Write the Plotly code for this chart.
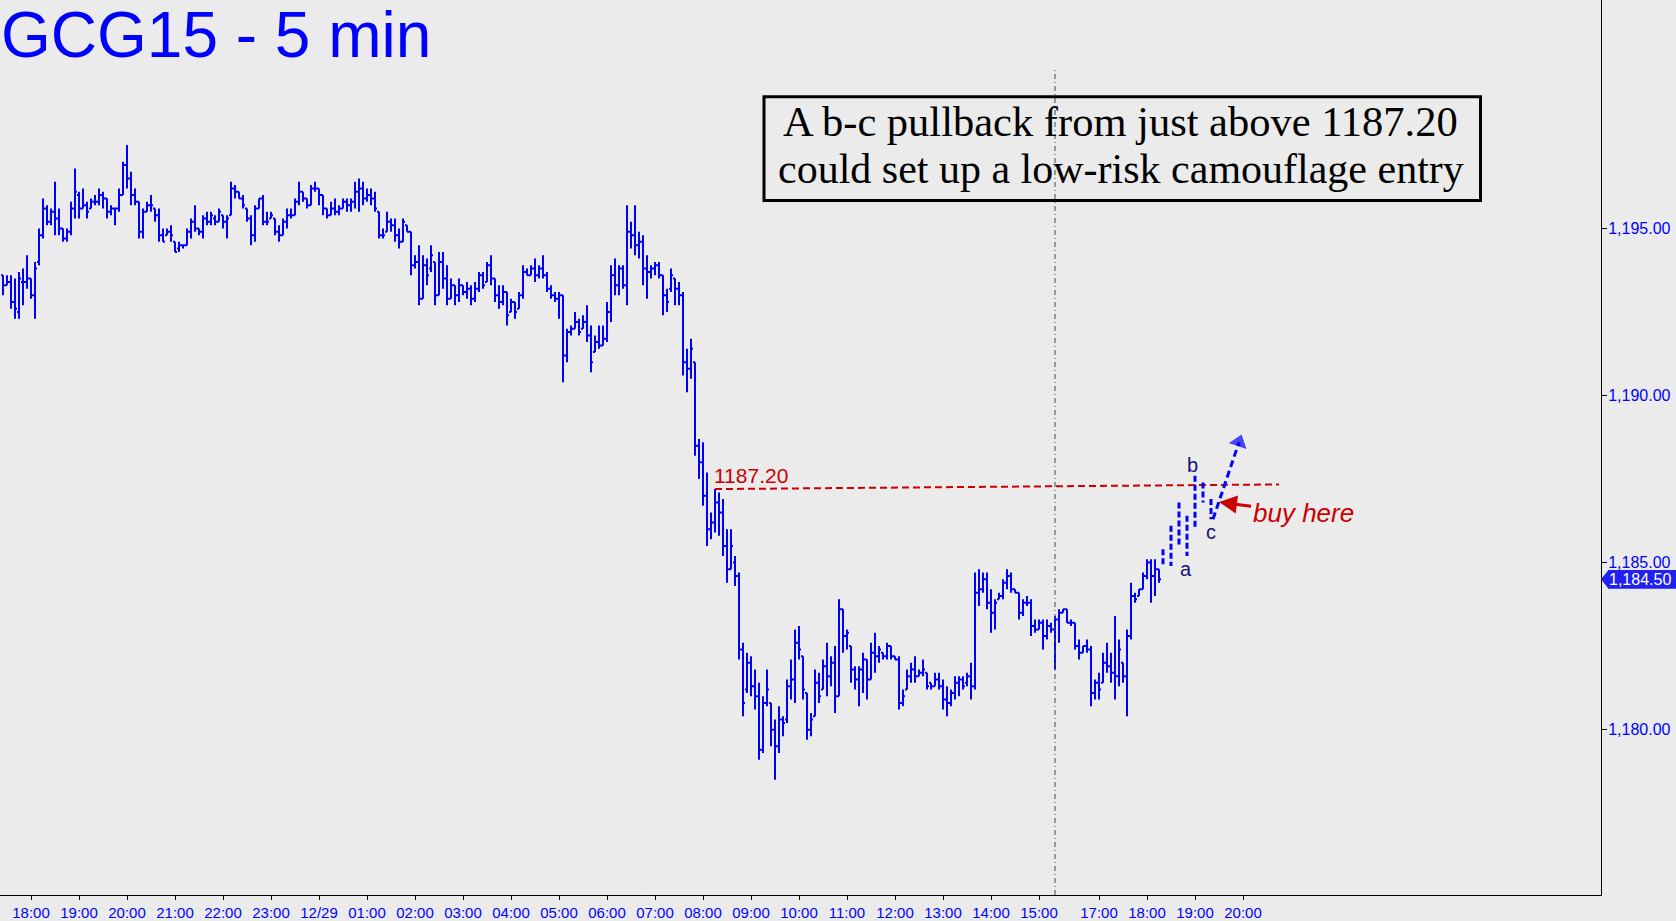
import pandas as pd
import plotly.graph_objects as go

# ---------------- data (5-minute OHLC bars, GCG15) ----------------
opens = [
 1193.6,1193.3,1193.4,1192.8,1192.5,1193.4,1193.4,1193.5,1193.0,1194.0,
 1194.8,1195.6,1195.2,1195.5,1195.3,1195.0,1194.7,1194.9,1195.6,1196.0,
 1195.6,1195.7,1195.6,1195.8,1195.8,1196.0,1195.9,1195.5,1195.6,1195.6,
 1196.0,1196.9,1196.5,1196.0,1195.8,1194.9,1195.5,1195.7,1195.6,1195.4,
 1194.8,1194.8,1194.9,1194.6,1194.4,1194.5,1194.5,1194.9,1195.2,1195.0,
 1194.9,1195.3,1195.2,1195.3,1195.2,1195.4,1195.2,1195.4,1196.2,1196.1,
 1195.9,1195.6,1195.3,1194.8,1195.6,1195.9,1195.2,1195.3,1195.3,1194.9,
 1194.8,1195.2,1195.4,1195.4,1195.8,1196.1,1195.9,1195.7,1196.2,1196.2,
 1196.0,1195.6,1195.4,1195.6,1195.5,1195.6,1195.8,1195.7,1195.8,1196.1,
 1196.2,1195.9,1196.0,1195.9,1195.5,1194.8,1194.9,1195.2,1195.1,1194.8,
 1194.6,1195.1,1194.9,1193.9,1194.0,1192.9,1193.9,1193.8,1194.0,1193.0,
 1194.0,1193.5,1192.9,1193.3,1193.0,1193.3,1193.1,1193.2,1192.9,1193.2,
 1193.6,1193.4,1193.9,1193.5,1193.0,1192.8,1193.1,1192.5,1192.8,1192.6,
 1193.0,1193.7,1193.6,1193.8,1193.6,1193.8,1193.6,1193.2,1193.0,1192.9,
 1193.0,1191.2,1191.9,1192.0,1192.2,1192.0,1192.2,1191.8,1191.3,1191.6,
 1191.5,1191.7,1192.5,1193.6,1193.3,1193.8,1193.3,1194.9,1194.8,1194.5,
 1194.6,1193.8,1193.7,1193.8,1193.9,1193.6,1193.0,1193.2,1193.5,1193.2,
 1193.0,1191.0,1190.8,1191.0,1188.5,1188.0,1187.0,1186.0,1186.2,1186.8,
 1186.5,1185.5,1184.8,1185.0,1184.6,1182.4,1181.2,1182.0,1181.3,1181.0,
 1179.4,1180.8,1180.8,1180.0,1179.5,1180.3,1180.3,1181.3,1181.5,1182.6,
 1182.2,1181.1,1180.0,1180.4,1181.4,1181.2,1181.9,1181.6,1182.0,1181.0,
 1183.6,1182.8,1182.5,1181.8,1181.5,1181.8,1182.1,1181.5,1182.3,1182.2,
 1182.3,1182.2,1182.5,1182.2,1182.1,1180.8,1181.2,1181.6,1181.8,1181.6,
 1181.7,1181.7,1181.4,1181.3,1181.5,1181.3,1180.9,1180.8,1181.1,1181.4,
 1181.5,1181.4,1181.6,1181.3,1184.1,1184.2,1184.5,1183.8,1183.5,1183.9,
 1184.0,1184.4,1184.6,1184.2,1184.1,1183.5,1183.8,1183.8,1183.1,1183.0,
 1183.2,1182.8,1183.1,1183.0,1183.3,1183.5,1183.6,1183.2,1183.2,1182.5,
 1182.3,1182.5,1182.4,1181.1,1181.4,1181.4,1182.0,1181.9,1181.7,1181.6,
 1182.0,1181.6,1182.8,1184.0,1184.0,1184.2,1184.6,1185.0,1184.6,1184.8,
]
highs = [
 1193.6,1193.6,1193.6,1193.5,1193.7,1193.8,1194.2,1193.5,1194.0,1195.0,
 1195.9,1195.7,1195.6,1196.4,1195.6,1195.0,1195.0,1195.8,1196.8,1196.1,
 1196.2,1195.8,1195.9,1196.0,1196.2,1196.1,1195.9,1195.7,1195.6,1196.2,
 1197.0,1197.5,1196.7,1196.2,1195.8,1195.6,1195.8,1196.0,1195.6,1195.6,
 1195.0,1195.0,1195.1,1194.6,1194.6,1194.5,1195.0,1195.3,1195.7,1195.0,
 1195.4,1195.5,1195.5,1195.4,1195.6,1195.4,1195.4,1196.4,1196.3,1196.1,
 1196.0,1195.6,1195.4,1195.7,1195.9,1196.0,1195.5,1195.5,1195.3,1195.1,
 1195.3,1195.6,1195.6,1195.9,1196.4,1196.1,1195.9,1196.3,1196.4,1196.2,
 1196.0,1195.6,1195.8,1195.9,1195.7,1195.9,1195.9,1195.9,1196.4,1196.5,
 1196.4,1196.2,1196.2,1196.1,1195.5,1195.0,1195.5,1195.3,1195.3,1195.0,
 1195.3,1195.1,1194.9,1194.2,1194.5,1194.2,1194.1,1194.5,1194.0,1194.3,
 1194.3,1193.9,1193.5,1193.3,1193.5,1193.3,1193.4,1193.3,1193.4,1193.7,
 1193.7,1194.0,1194.2,1193.5,1193.3,1193.3,1193.1,1192.9,1192.8,1193.1,
 1193.9,1193.8,1193.9,1194.1,1193.9,1194.2,1193.7,1193.3,1193.1,1193.1,
 1193.0,1192.0,1192.1,1192.5,1192.3,1192.4,1192.7,1192.1,1191.8,1192.1,
 1192.1,1192.8,1193.9,1194.1,1193.9,1193.9,1195.7,1195.2,1195.7,1194.9,
 1194.8,1194.2,1193.9,1194.0,1194.0,1193.6,1193.2,1193.8,1193.5,1193.4,
 1193.1,1191.4,1191.7,1191.0,1188.7,1188.6,1187.7,1186.5,1187.2,1187.1,
 1186.9,1186.0,1186.0,1185.2,1184.7,1182.6,1182.3,1182.2,1181.8,1181.4,
 1181.0,1181.8,1180.8,1180.3,1180.7,1180.4,1181.5,1182.1,1183.0,1183.1,
 1182.2,1181.1,1180.5,1181.8,1181.7,1182.1,1182.6,1182.2,1182.5,1183.9,
 1183.6,1183.0,1182.5,1181.9,1181.9,1182.3,1182.1,1182.6,1182.9,1182.5,
 1182.3,1182.6,1182.5,1182.2,1182.2,1181.2,1181.8,1182.0,1182.2,1181.8,
 1182.1,1181.7,1181.4,1181.7,1181.7,1181.5,1181.3,1181.2,1181.6,1181.6,
 1181.6,1181.7,1182.0,1184.7,1184.8,1184.7,1184.7,1184.2,1183.9,1184.1,
 1184.5,1184.8,1184.7,1184.2,1184.1,1183.9,1184.0,1183.9,1183.3,1183.3,
 1183.3,1183.3,1183.2,1183.4,1183.6,1183.6,1183.6,1183.3,1183.2,1182.7,
 1182.5,1182.7,1182.5,1181.5,1181.7,1182.3,1182.6,1182.3,1183.4,1182.7,
 1182.0,1183.0,1184.4,1184.1,1184.2,1184.7,1185.1,1185.1,1185.1,1184.8,
]
lows = [
 1193.0,1193.3,1192.6,1192.3,1192.3,1192.7,1193.2,1192.9,1192.3,1193.9,
 1194.7,1195.1,1195.1,1194.8,1194.8,1194.6,1194.6,1194.8,1195.3,1195.3,
 1195.6,1195.3,1195.6,1195.7,1195.7,1195.6,1195.3,1195.4,1195.1,1195.5,
 1196.0,1196.2,1195.7,1195.7,1194.7,1194.7,1195.5,1195.5,1195.2,1194.6,
 1194.6,1194.8,1194.6,1194.3,1194.3,1194.4,1194.5,1194.7,1194.9,1194.8,
 1194.7,1195.1,1195.1,1195.1,1195.2,1195.0,1194.7,1195.4,1195.9,1195.9,
 1195.6,1195.2,1194.5,1194.6,1195.6,1195.1,1195.1,1195.3,1194.8,1194.6,
 1194.8,1195.0,1195.3,1195.4,1195.7,1195.8,1195.6,1195.7,1196.1,1195.7,
 1195.4,1195.3,1195.4,1195.4,1195.4,1195.6,1195.5,1195.5,1195.6,1195.5,
 1195.7,1195.8,1195.7,1195.5,1194.7,1194.7,1194.9,1194.9,1194.6,1194.4,
 1194.6,1194.9,1193.6,1193.8,1192.7,1192.9,1193.3,1193.7,1192.7,1193.0,
 1193.2,1192.7,1192.9,1192.7,1192.8,1193.0,1192.9,1192.7,1192.8,1193.1,
 1193.2,1193.4,1193.3,1192.8,1192.6,1192.7,1192.1,1192.5,1192.3,1192.6,
 1192.9,1193.6,1193.6,1193.4,1193.5,1193.5,1193.1,1192.9,1192.8,1192.3,
 1190.4,1191.0,1191.8,1192.0,1191.8,1192.0,1191.6,1190.7,1191.3,1191.4,
 1191.5,1191.6,1192.2,1193.0,1193.0,1193.2,1192.7,1194.4,1194.2,1194.1,
 1193.3,1192.9,1193.5,1193.6,1193.5,1192.4,1192.5,1193.1,1192.7,1192.7,
 1190.6,1190.1,1190.5,1188.2,1187.5,1186.7,1185.5,1185.7,1185.9,1185.8,
 1185.2,1184.4,1184.8,1184.3,1182.1,1180.4,1181.1,1181.0,1180.6,1179.1,
 1179.3,1180.7,1179.5,1178.5,1179.3,1179.8,1180.2,1180.9,1180.8,1182.1,
 1180.9,1179.7,1179.8,1180.4,1180.8,1181.2,1181.0,1181.3,1180.5,1181.0,
 1182.3,1182.4,1181.4,1181.2,1180.7,1181.1,1180.9,1181.5,1181.7,1182.0,
 1182.1,1182.1,1182.1,1182.1,1180.6,1180.7,1181.2,1181.4,1181.4,1181.6,
 1181.6,1181.2,1181.2,1181.3,1181.2,1180.6,1180.4,1180.7,1180.9,1181.0,
 1181.2,1181.3,1180.9,1181.2,1183.7,1184.1,1183.6,1182.9,1183.0,1183.9,
 1183.9,1184.2,1184.1,1184.1,1183.3,1183.4,1183.7,1182.8,1182.9,1183.0,
 1182.4,1182.7,1182.9,1181.8,1182.6,1183.5,1183.2,1183.1,1182.4,1182.1,
 1182.3,1182.3,1180.7,1180.9,1180.9,1181.4,1181.7,1181.4,1180.9,1181.3,
 1181.4,1180.4,1182.7,1183.8,1184.0,1184.2,1184.5,1183.8,1184.0,1184.4,
]
closes = [
 1193.3,1193.4,1192.8,1192.6,1193.5,1193.4,1193.5,1193.0,1193.8,1194.8,
 1195.6,1195.2,1195.5,1195.3,1195.0,1194.7,1194.9,1195.6,1196.1,1195.6,
 1195.7,1195.5,1195.8,1195.8,1196.0,1195.9,1195.5,1195.6,1195.6,1196.0,
 1196.9,1196.5,1196.0,1195.8,1194.9,1195.5,1195.7,1195.7,1195.4,1194.8,
 1194.6,1194.9,1194.8,1194.3,1194.5,1194.5,1194.9,1195.2,1195.0,1194.9,
 1195.3,1195.2,1195.4,1195.2,1195.5,1195.2,1195.3,1196.2,1196.1,1195.9,
 1195.7,1195.3,1194.8,1195.6,1195.9,1195.2,1195.2,1195.4,1194.9,1194.8,
 1195.2,1195.4,1195.4,1195.8,1196.1,1195.9,1195.7,1196.2,1196.2,1196.0,
 1195.6,1195.4,1195.6,1195.5,1195.6,1195.8,1195.7,1195.8,1196.1,1196.2,
 1195.9,1196.0,1195.9,1195.6,1194.8,1194.8,1195.2,1195.1,1194.8,1194.6,
 1195.2,1194.9,1193.9,1194.0,1192.9,1193.9,1193.6,1194.2,1193.0,1194.0,
 1193.5,1192.9,1193.3,1193.0,1193.3,1193.1,1193.2,1192.9,1193.2,1193.6,
 1193.3,1193.9,1193.5,1193.0,1192.8,1193.1,1192.4,1192.8,1192.5,1193.0,
 1193.7,1193.6,1193.8,1193.6,1193.8,1193.6,1193.2,1193.0,1192.9,1193.0,
 1191.2,1191.9,1192.0,1192.2,1191.9,1192.2,1191.8,1191.0,1191.6,1191.5,
 1191.7,1192.5,1193.6,1193.3,1193.8,1193.3,1194.9,1194.8,1194.5,1194.6,
 1193.8,1193.7,1193.8,1193.9,1193.6,1193.0,1192.8,1193.6,1193.2,1193.0,
 1191.0,1190.8,1191.4,1188.5,1188.0,1187.0,1186.0,1186.2,1186.8,1186.5,
 1185.5,1184.8,1185.5,1184.6,1182.4,1180.8,1182.0,1181.3,1181.0,1179.4,
 1180.8,1181.2,1180.0,1179.5,1180.3,1180.2,1181.3,1181.5,1182.6,1182.4,
 1181.2,1180.0,1180.3,1181.4,1181.0,1181.9,1181.6,1182.0,1181.0,1183.6,
 1182.8,1182.9,1181.8,1181.5,1181.8,1182.1,1181.5,1182.3,1182.2,1182.4,
 1182.2,1182.5,1182.2,1182.1,1180.8,1181.0,1181.6,1181.8,1181.6,1181.7,
 1181.8,1181.3,1181.3,1181.5,1181.3,1180.9,1180.8,1181.1,1181.4,1181.5,
 1181.3,1181.6,1181.3,1184.1,1184.2,1184.5,1183.8,1183.5,1183.8,1184.0,
 1184.4,1184.6,1184.2,1184.1,1183.5,1183.8,1183.8,1183.1,1183.0,1183.2,
 1182.8,1183.1,1183.0,1183.3,1183.5,1183.6,1183.2,1183.2,1182.5,1182.3,
 1182.5,1182.4,1181.1,1181.4,1181.2,1182.0,1181.9,1181.7,1181.6,1182.4,
 1181.6,1182.8,1184.0,1183.9,1184.2,1184.6,1185.0,1184.6,1184.8,1184.5,
]

# session times (CME break 16:15-17:00)
session1 = pd.date_range("2014-12-28 17:25", "2014-12-29 16:10", freq="5min")
session2 = pd.date_range("2014-12-29 17:00", "2014-12-29 20:55", freq="5min")
axis_times = list(session1) + list(session2)

# hand-drawn projection (a-b-c) bars, offsets in bars after the last real bar
proj_offsets = [1, 3, 5, 7, 9, 11, 13]
proj_high = [1185.4, 1186.1, 1186.8, 1186.4, 1187.6, 1187.4, 1186.9]
proj_low = [1184.9, 1184.9, 1185.5, 1185.2, 1186.0, 1186.8, 1186.3]
arrow_offsets = [13.5, 20.0]
arrow_price = [1186.3, 1188.6]
buy_offset, buy_price = 15, 1186.81

level_price = [1187.20, 1187.34]
level_start = "08:15"
level_end_offset = 30
marker_time = "15:20"
last_price = 1184.50

title_text = "GCG15 - 5 min"
note_lines = ["A b-c pullback from just above 1187.20",
              "could set up a low-risk camouflage entry"]

# ---------------- derived ----------------
n = len(closes)
xi = list(range(n))
last = n - 1
tick_pos = [i for i, t in enumerate(axis_times) if t.minute == 0 and t.hour != 16]
tick_txt = ["12/29" if axis_times[i].hour == 0 else axis_times[i].strftime("%H:%M") for i in tick_pos]
lvl_i = [i for i, t in enumerate(axis_times[:n]) if t.strftime("%H:%M") == level_start and t.day == 29][0]
mark_i = [i for i, t in enumerate(axis_times[:n]) if t.strftime("%H:%M") == marker_time and t.day == 29][0]

BLUE = "#0000FF"
RED = "#CC0000"
BG = "#EBEBEB"
SANS = "Liberation Sans, Arial, sans-serif"
SERIF = "Liberation Serif, Times New Roman, serif"

fig = go.Figure()
fig.add_trace(go.Ohlc(
    x=xi, open=opens, high=highs, low=lows, close=closes,
    increasing=dict(line=dict(color=BLUE, width=2)),
    decreasing=dict(line=dict(color=BLUE, width=2)),
    tickwidth=0.5, hoverinfo="skip", showlegend=False))

# red level line
fig.add_trace(go.Scatter(
    x=[lvl_i, last + level_end_offset], y=level_price, mode="lines",
    line=dict(color=RED, width=2, dash="7px,4px"), hoverinfo="skip", showlegend=False))

# dashed projection bars
px_, py_ = [], []
for o, h, l in zip(proj_offsets, proj_high, proj_low):
    px_ += [last + o, last + o, None]
    py_ += [h, l, None]
fig.add_trace(go.Scatter(x=px_, y=py_, mode="lines",
                         line=dict(color=BLUE, width=3, dash="6px,3px"),
                         hoverinfo="skip", showlegend=False))
# dashed arrow
fig.add_trace(go.Scatter(
    x=[last + a for a in arrow_offsets], y=arrow_price, mode="lines+markers",
    line=dict(color=BLUE, width=3, dash="7px,4px"),
    marker=dict(symbol="triangle-up", size=[0, 18], color=BLUE, angleref="previous"),
    hoverinfo="skip", showlegend=False))

W, H = 1676, 921
L, R, T, B = 0, 75, 0, 24
PW, PH = W - L - R, H - T - B


def pxx(x):
    return x / PW


def pxy(y):
    return 1 - y / PH


fig.update_layout(
    width=W, height=H, autosize=False,
    margin=dict(l=L, r=R, t=T, b=B, pad=0),
    paper_bgcolor=BG, plot_bgcolor=BG,
    showlegend=False, hovermode=False,
    xaxis=dict(range=[-0.75, 399.5], showgrid=False, zeroline=False,
               rangeslider=dict(visible=False),
               tickmode="array", tickvals=tick_pos, ticktext=tick_txt,
               ticks="outside", ticklen=4, tickcolor="black", tickwidth=1,
               showline=True, linecolor="black", linewidth=1,
               tickfont=dict(family=SANS, size=15, color=BLUE)),
    yaxis=dict(range=[1175.05, 1201.84], side="right", showgrid=False, zeroline=False,
               tickmode="array", tickvals=[1180, 1185, 1190, 1195], tickformat=",.2f",
               ticks="outside", ticklen=5, tickcolor="black", tickwidth=1,
               ticklabelstandoff=-2,
               showline=True, linecolor="black", linewidth=1,
               tickfont=dict(family=SANS, size=16, color=BLUE)),
)

shapes = [
    dict(type="line", xref="x", yref="paper", x0=mark_i, x1=mark_i, y0=0, y1=pxy(69.5),
         line=dict(color="#444444", width=1, dash="5px,3px,1px,3px")),
    dict(type="rect", xref="paper", yref="paper", x0=pxx(764), x1=pxx(1480.5),
         y0=pxy(201), y1=pxy(97), line=dict(color="black", width=3)),
    dict(type="rect", xref="paper", yref="y", x0=pxx(1608), x1=pxx(1680),
         y0=last_price - 0.28, y1=last_price + 0.28, line=dict(width=0), fillcolor="#2020F0"),
    dict(type="path", xref="paper", yref="y",
         path=f"M {pxx(1601)},{last_price} L {pxx(1608.5)},{last_price + 0.28} L {pxx(1608.5)},{last_price - 0.28} Z",
         line=dict(width=0), fillcolor="#2020F0"),
]
fig.update_layout(shapes=shapes)

ann = [
    dict(xref="paper", yref="paper", x=0, y=pxy(35), xanchor="left", yanchor="middle",
         text=title_text, showarrow=False, borderpad=0,
         font=dict(family=SANS, size=64, color=BLUE)),
    dict(xref="paper", yref="paper", x=pxx(1120), y=pxy(121.6), xanchor="center", yanchor="middle",
         text=note_lines[0], showarrow=False, font=dict(family=SERIF, size=42.5, color="black")),
    dict(xref="paper", yref="paper", x=pxx(1120.7), y=pxy(169.7), xanchor="center", yanchor="middle",
         text=note_lines[1], showarrow=False, font=dict(family=SERIF, size=42, color="black")),
    dict(xref="x", yref="y", x=lvl_i, y=level_price[0], xanchor="left", yanchor="bottom",
         text=f"{level_price[0]:.2f}", showarrow=False, xshift=-3,
         font=dict(family=SANS, size=21, color=RED)),
    dict(xref="paper", yref="y", x=pxx(1607), y=last_price, xanchor="left", yanchor="middle",
         text=f"{last_price:,.2f}", showarrow=False,
         font=dict(family=SANS, size=16, color="white")),
    dict(xref="x", yref="y", x=last + proj_offsets[3], y=proj_low[3], xanchor="center", yanchor="top",
         text="a", showarrow=False, xshift=-1, font=dict(family=SANS, size=20, color="#14147a")),
    dict(xref="x", yref="y", x=last + proj_offsets[4], y=proj_high[4], xanchor="center", yanchor="bottom",
         text="b", showarrow=False, xshift=-3, yshift=-2, font=dict(family=SANS, size=20, color="#14147a")),
    dict(xref="x", yref="y", x=last + proj_offsets[6], y=proj_low[6], xanchor="center", yanchor="top",
         text="c", showarrow=False, font=dict(family=SANS, size=20, color="#14147a")),
    dict(xref="x", yref="y", x=last + buy_offset, y=buy_price, ax=84, ay=11,
         text="buy here", showarrow=True, arrowhead=2, arrowsize=1.2, arrowwidth=3,
         arrowcolor=RED, font=dict(family=SANS, size=26, color=RED, style="italic")),
]
fig.update_layout(annotations=ann)

fig.write_html("out.html", config={"displayModeBar": False},
               post_script="document.body.style.margin='0';document.body.style.overflow='hidden';")
